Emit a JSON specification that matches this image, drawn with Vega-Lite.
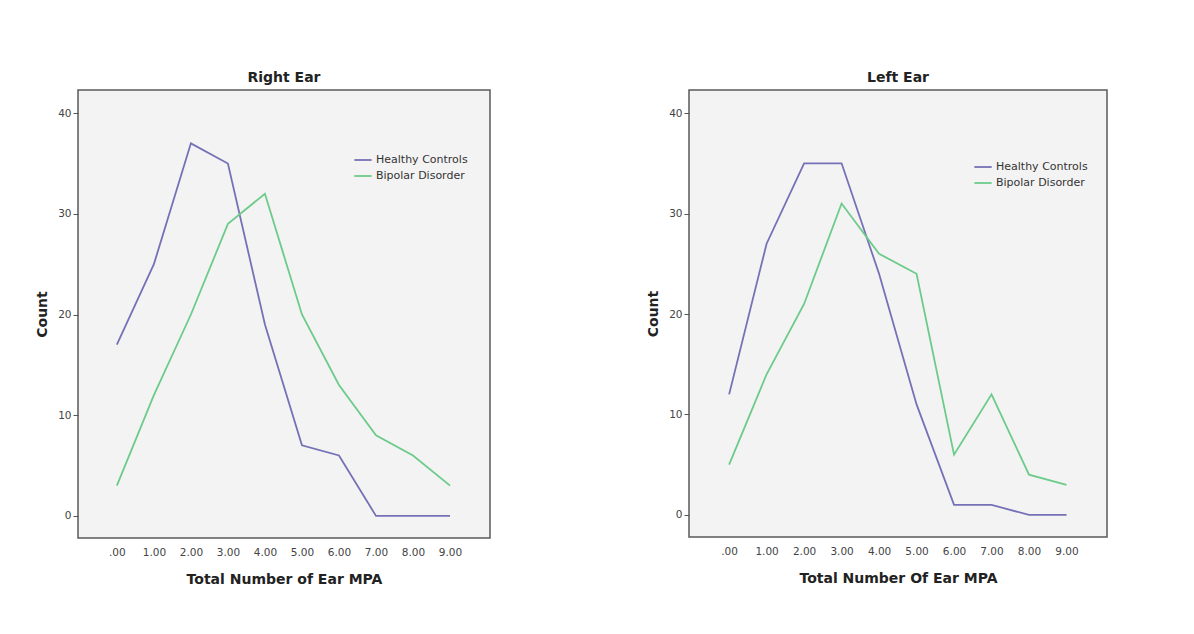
{
  "$schema": "https://vega.github.io/schema/vega-lite/v6.json",
  "background": "white",
  "padding": {"left": 34, "top": 70, "right": 0, "bottom": 0},
  "spacing": 199,
  "bounds": "flush",
  "datasets": {
    "right": [
      {"mpa": 0, "count": 17, "group": "Healthy Controls"},
      {"mpa": 1, "count": 25, "group": "Healthy Controls"},
      {"mpa": 2, "count": 37, "group": "Healthy Controls"},
      {"mpa": 3, "count": 35, "group": "Healthy Controls"},
      {"mpa": 4, "count": 19, "group": "Healthy Controls"},
      {"mpa": 5, "count": 7, "group": "Healthy Controls"},
      {"mpa": 6, "count": 6, "group": "Healthy Controls"},
      {"mpa": 7, "count": 0, "group": "Healthy Controls"},
      {"mpa": 8, "count": 0, "group": "Healthy Controls"},
      {"mpa": 9, "count": 0, "group": "Healthy Controls"},
      {"mpa": 0, "count": 3, "group": "Bipolar Disorder"},
      {"mpa": 1, "count": 12, "group": "Bipolar Disorder"},
      {"mpa": 2, "count": 20, "group": "Bipolar Disorder"},
      {"mpa": 3, "count": 29, "group": "Bipolar Disorder"},
      {"mpa": 4, "count": 32, "group": "Bipolar Disorder"},
      {"mpa": 5, "count": 20, "group": "Bipolar Disorder"},
      {"mpa": 6, "count": 13, "group": "Bipolar Disorder"},
      {"mpa": 7, "count": 8, "group": "Bipolar Disorder"},
      {"mpa": 8, "count": 6, "group": "Bipolar Disorder"},
      {"mpa": 9, "count": 3, "group": "Bipolar Disorder"}
    ],
    "left": [
      {"mpa": 0, "count": 12, "group": "Healthy Controls"},
      {"mpa": 1, "count": 27, "group": "Healthy Controls"},
      {"mpa": 2, "count": 35, "group": "Healthy Controls"},
      {"mpa": 3, "count": 35, "group": "Healthy Controls"},
      {"mpa": 4, "count": 24, "group": "Healthy Controls"},
      {"mpa": 5, "count": 11, "group": "Healthy Controls"},
      {"mpa": 6, "count": 1, "group": "Healthy Controls"},
      {"mpa": 7, "count": 1, "group": "Healthy Controls"},
      {"mpa": 8, "count": 0, "group": "Healthy Controls"},
      {"mpa": 9, "count": 0, "group": "Healthy Controls"},
      {"mpa": 0, "count": 5, "group": "Bipolar Disorder"},
      {"mpa": 1, "count": 14, "group": "Bipolar Disorder"},
      {"mpa": 2, "count": 21, "group": "Bipolar Disorder"},
      {"mpa": 3, "count": 31, "group": "Bipolar Disorder"},
      {"mpa": 4, "count": 26, "group": "Bipolar Disorder"},
      {"mpa": 5, "count": 24, "group": "Bipolar Disorder"},
      {"mpa": 6, "count": 6, "group": "Bipolar Disorder"},
      {"mpa": 7, "count": 12, "group": "Bipolar Disorder"},
      {"mpa": 8, "count": 4, "group": "Bipolar Disorder"},
      {"mpa": 9, "count": 3, "group": "Bipolar Disorder"}
    ]
  },
  "config": {
    "font": "DejaVu Sans",
    "view": {"fill": "#f3f3f3", "stroke": "#5a5a5a", "strokeWidth": 1.5},
    "title": {"fontSize": 14, "fontWeight": "bold", "color": "#222", "offset": 5, "anchor": "middle"},
    "axis": {
      "grid": false,
      "domain": false,
      "labelFontSize": 10.5,
      "labelColor": "#444",
      "labelFont": "DejaVu Sans",
      "titleFontSize": 14,
      "titleFontWeight": "bold",
      "titleColor": "#222",
      "tickColor": "#555",
      "tickSize": 5
    },
    "legend": {
      "orient": "none",
      "title": null,
      "symbolType": "stroke",
      "symbolSize": 300,
      "symbolStrokeWidth": 1.8,
      "labelFontSize": 11,
      "labelColor": "#333",
      "rowPadding": 1,
      "labelOffset": 3
    }
  },
  "hconcat": [
    {
      "title": "Right Ear",
      "width": 412,
      "height": 448,
      "data": {"name": "right"},
      "mark": {"type": "line", "strokeWidth": 1.8},
      "encoding": {
        "x": {
          "field": "mpa", "type": "quantitative",
          "scale": {"domain": [-1.05, 10.08], "nice": false, "zero": false},
          "axis": {"values": [0,1,2,3,4,5,6,7,8,9], "ticks": false, "labelPadding": 9,
                   "labelExpr": "datum.value == 0 ? '.00' : format(datum.value, '.2f')",
                   "title": "Total Number of Ear MPA", "titlePadding": 15}
        },
        "y": {
          "field": "count", "type": "quantitative",
          "scale": {"domain": [-2.2, 42.3], "nice": false, "zero": false},
          "axis": {"values": [0,10,20,30,40], "title": "Count", "titlePadding": 8}
        },
        "color": {
          "field": "group", "type": "nominal",
          "scale": {"domain": ["Healthy Controls", "Bipolar Disorder"], "range": ["#7571b6", "#6ccb8a"]},
          "legend": {"legendX": 275, "legendY": 60}
        }
      }
    },
    {
      "title": "Left Ear",
      "width": 418,
      "height": 447,
      "data": {"name": "left"},
      "mark": {"type": "line", "strokeWidth": 1.8},
      "encoding": {
        "x": {
          "field": "mpa", "type": "quantitative",
          "scale": {"domain": [-1.07, 10.08], "nice": false, "zero": false},
          "axis": {"values": [0,1,2,3,4,5,6,7,8,9], "ticks": false, "labelPadding": 9,
                   "labelExpr": "datum.value == 0 ? '.00' : format(datum.value, '.2f')",
                   "title": "Total Number Of Ear MPA", "titlePadding": 15}
        },
        "y": {
          "field": "count", "type": "quantitative",
          "scale": {"domain": [-2.2, 42.3], "nice": false, "zero": false},
          "axis": {"values": [0,10,20,30,40], "title": "Count", "titlePadding": 8}
        },
        "color": {
          "field": "group", "type": "nominal",
          "scale": {"domain": ["Healthy Controls", "Bipolar Disorder"], "range": ["#7571b6", "#6ccb8a"]},
          "legend": {"legendX": 284, "legendY": 67}
        }
      }
    }
  ],
  "resolve": {"scale": {"color": "independent"}}
}
